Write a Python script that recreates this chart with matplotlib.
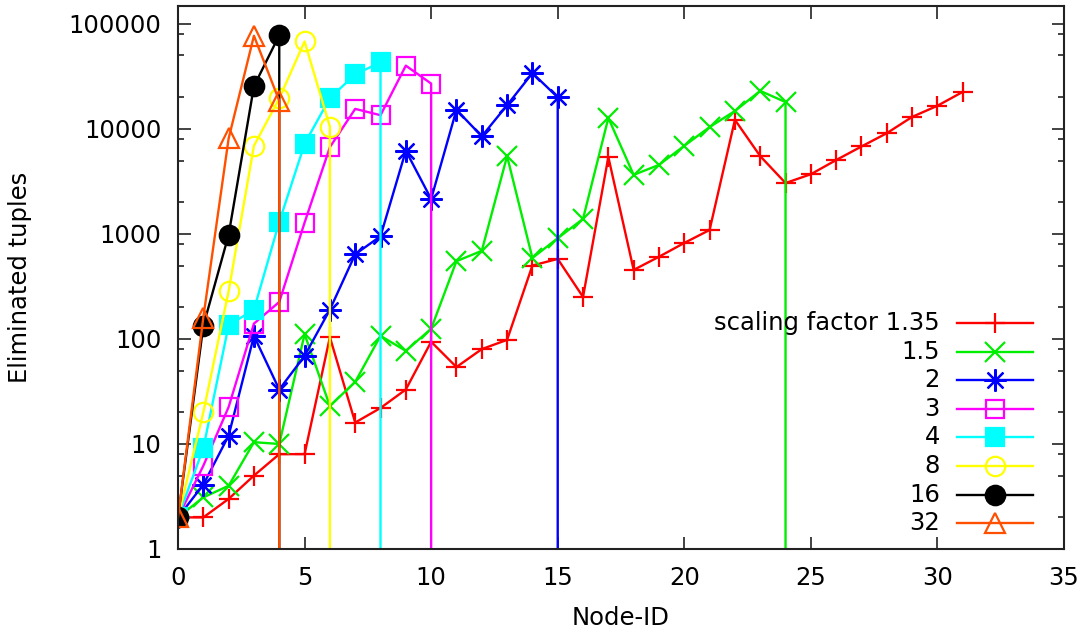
import matplotlib
matplotlib.use("Agg")
import matplotlib.pyplot as plt
from matplotlib.ticker import FixedLocator, NullFormatter

# values per node (node id = index)
sf_135 = [2, 2, 3, 5, 8, 8, 104, 16, 22, 33, 94, 54, 80, 98, 500, 578, 251,
          5400, 454, 606, 820, 1090, 12200, 5500, 3050, 3700, 5050, 6800,
          9100, 13000, 16600, 22500]
sf_15 = [2, 3.1, 4, 10.4, 10, 111, 23, 39, 107, 77, 125, 550, 690, 5500,
         590, 910, 1390, 12700, 3650, 4540, 6900, 10400, 14800, 23000, 18000]
sf_2 = [2, 4.1, 12, 107, 33, 69, 190, 640, 950, 6200, 2150, 15200, 8500,
        16800, 34000, 20000]
sf_3 = [2, 6.2, 22.5, 140, 225, 1280, 6700, 15500, 13500, 40000, 27000]
sf_4 = [2, 9.1, 135, 190, 1300, 7200, 19700, 33000, 43000]
sf_8 = [2, 20, 285, 6900, 19500, 68000, 10500]
sf_16 = [2, 133, 980, 25500, 78000]
sf_32 = [2, 160, 8100, 77000, 18500]

labels = ["scaling factor 1.35", "1.5", "2", "3", "4", "8", "16", "32"]
series = [sf_135, sf_15, sf_2, sf_3, sf_4, sf_8, sf_16, sf_32]
# series that fall to zero after their last node (vertical drop line)
drops = [False, True, True, True, True, True, True, True]
drop_value = 0.5

colors = ["#ff0000", "#00ee00", "#0000ff", "#ff00ff", "#00ffff", "#ffff00",
          "#000000", "#ff5000"]
markers = ["+", "x", (8, 2, 0), "s", "s", "o", "o", "^"]
filled = [True, True, True, False, True, False, True, False]
msizes = [15, 14, 16, 13, 13, 14, 14, 14]

plt.rcParams['font.family'] = 'DejaVu Sans'
plt.rcParams['font.size'] = 17.5

fig = plt.figure(figsize=(10.88, 6.35), dpi=100)
ax = fig.add_axes([178 / 1088, 86 / 635, 886 / 1088, 543 / 635])

for vals, c, m, f, ms, d in zip(series, colors, markers, filled, msizes, drops):
    xs = list(range(len(vals)))
    ys = list(vals)
    if d:
        xs.append(xs[-1])
        ys.append(drop_value)
    ax.plot(xs, ys, color=c, lw=1.7, marker=m, ms=ms, mew=1.6,
            mfc=c if f else 'none', mec=c,
            markevery=list(range(len(vals))))

ax.set_yscale('log')
ax.set_xlim(0, 35)
ax.set_ylim(1, 10 ** 5.17)

yt = [1, 10, 100, 1000, 10000, 100000]
ax.yaxis.set_major_locator(FixedLocator(yt))
ax.set_yticklabels([str(v) for v in yt])
minor = [m * 10 ** k for k in range(0, 6) for m in (2, 5, 8)]
ax.yaxis.set_minor_locator(FixedLocator(minor))
ax.yaxis.set_minor_formatter(NullFormatter())
ax.set_xticks(range(0, 36, 5))

ax.tick_params(which='both', direction='in', top=True, right=True,
               color='#222222', width=1.2)
ax.tick_params(which='major', length=9, pad=12)
ax.tick_params(which='minor', length=4.5)
for s in ax.spines.values():
    s.set_color('#222222')
    s.set_linewidth(1.5)

ax.set_xlabel('Node-ID', labelpad=12)
ax.set_ylabel('Eliminated tuples', labelpad=26)

# key box on the right, text right-aligned before the line sample
tx = (940 - 178) / 886
lx0 = (957 - 178) / 886
lx1 = (1033 - 178) / 886
mx = (995 - 178) / 886
for i, (lab, c, m, f, ms) in enumerate(zip(labels, colors, markers, filled, msizes)):
    yy = (549 - (323 + 28.6 * i)) / 543
    ax.text(tx, yy, lab, transform=ax.transAxes, ha='right', va='center')
    ax.plot([lx0, lx1], [yy, yy], transform=ax.transAxes, color=c, lw=1.7,
            clip_on=False)
    ax.plot([mx], [yy], transform=ax.transAxes, color=c, marker=m, ms=ms,
            mew=1.6, mfc=c if f else 'none', mec=c, clip_on=False)

fig.savefig('out.png', dpi=100)
